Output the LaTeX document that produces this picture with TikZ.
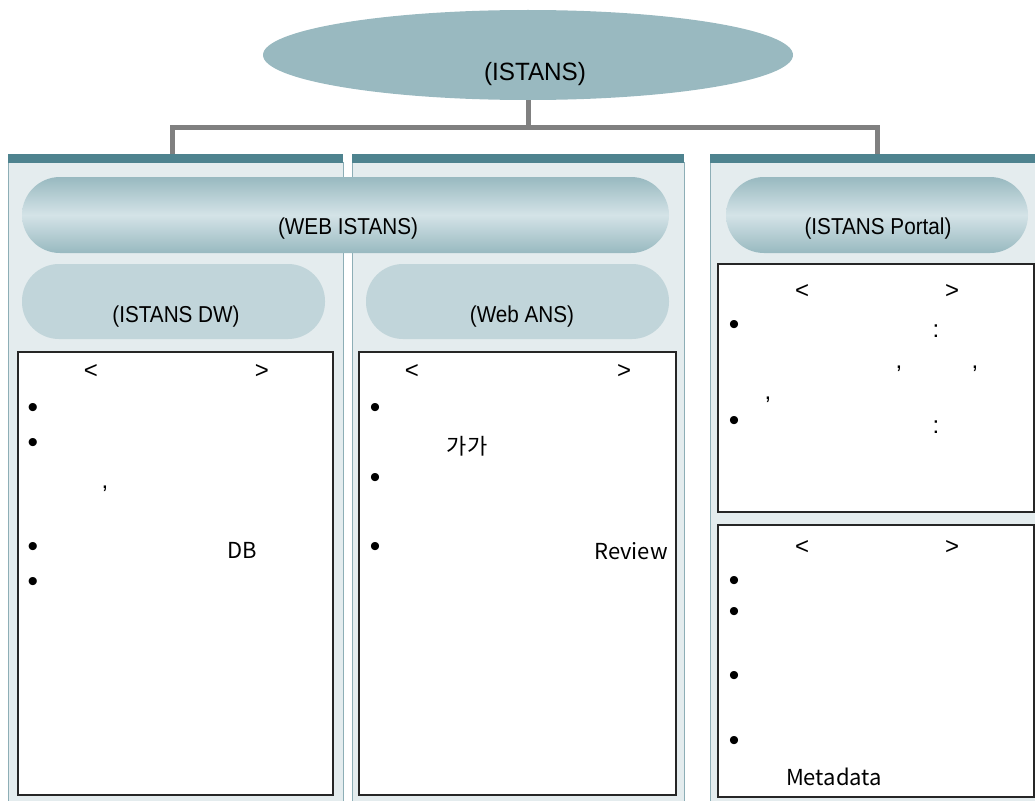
\documentclass[tikz,border=0pt]{standalone}
\usepackage{fontspec}
\setmainfont{Liberation Sans}
\newfontfamily\kr{Noto Sans CJK KR}
\usetikzlibrary{shapes.geometric}
\definecolor{bar}{HTML}{4E838F}
\definecolor{panelfill}{HTML}{E4ECEE}
\definecolor{panelline}{HTML}{8DAEB6}
\definecolor{pillsoft}{HTML}{C1D5DA}
\definecolor{pilldark}{HTML}{98B9C0}
\definecolor{pilllight}{HTML}{D4E3E7}
\definecolor{ellfill}{HTML}{99B9C0}
\definecolor{conn}{HTML}{808080}
\tikzset{
  panelbg/.style={fill=panelfill, draw=panelline, line width=1pt},
  topbar/.style={fill=bar, draw=none},
  bigpill/.style={top color=pilldark, bottom color=pilldark, middle color=pilllight, draw=none, rounded corners=38pt},
  softpill/.style={fill=pillsoft, draw=none, rounded corners=37pt},
  whitebox/.style={fill=white, draw=black!85, line width=1.2pt},
  pilltext/.style={font=\fontsize{23}{26}\selectfont, inner sep=0pt, xscale=0.9},
  boxtext/.style={font=\fontsize{24}{28}\selectfont, inner sep=0pt},
  krtext/.style={font=\kr\fontsize{22}{26}\selectfont, inner sep=0pt},
  bul/.style={font=\fontsize{30}{34}\selectfont, inner sep=0pt},
  connector/.style={draw=conn, line width=5pt}
}
\begin{document}
\begin{tikzpicture}[x=1pt,y=-1pt]
\useasboundingbox (0,0) rectangle (1035,800);
% panels
\draw[panelbg] (8,162) rectangle (343,805);
\fill[topbar] (8,154) rectangle (343,163);
\draw[panelbg] (352,162) rectangle (684,805);
\fill[topbar] (352,154) rectangle (684,163);
\draw[panelbg] (710,162) rectangle (1040,805);
\fill[topbar] (710,154) rectangle (1035,163);
% top ellipse
\node[ellipse, fill=ellfill, draw=none, minimum width=530pt, minimum height=90pt, inner sep=0pt] (top) at (528,55) {};
\node[font=\fontsize{25}{28}\selectfont, inner sep=0pt, xscale=0.97] (toplbl) at (535,74) {(ISTANS)};
% connectors
\coordinate (j) at (528,127);
\coordinate (p1t) at (172,154);
\coordinate (p3t) at (877,154);
\draw[connector] (top.south) -- (j);
\draw[connector] (p1t) |- (j) -| (p3t);
% pills
\shade[bigpill] (22,177) rectangle (669,253);
\node[pilltext] (webistans) at (348,229) {(WEB ISTANS)};
\shade[bigpill] (726,177) rectangle (1028,253);
\node[pilltext] (portal) at (878,229) {(ISTANS Portal)};
\fill[softpill] (22,264) rectangle (325,339);
\node[pilltext] (dw) at (176,317) {(ISTANS DW)};
\fill[softpill] (366,264) rectangle (669,339);
\node[pilltext] (webans) at (522,317) {(Web ANS)};
% white boxes
\draw[whitebox] (18,352) rectangle (333,795);
\draw[whitebox] (359,352) rectangle (676,795);
\draw[whitebox] (718,264) rectangle (1034,512);
\draw[whitebox] (718,525) rectangle (1034,797);
% box 1
\node[boxtext] (b1l) at (91,371) {<};
\node[boxtext] (b1r) at (262,371) {>};
\node[bul] (b1a) at (33,410) {\textbullet};
\node[bul] (b1b) at (33,445) {\textbullet};
\node[boxtext] (b1c) at (105,489) {,};
\node[bul] (b1d) at (33,549) {\textbullet};
\node[krtext] (b1db) at (242,550) {DB};
\node[bul] (b1e) at (33,584) {\textbullet};
% box 2
\node[boxtext] (b2l) at (412,371) {<};
\node[boxtext] (b2r) at (624,371) {>};
\node[bul] (b2a) at (375,410) {\textbullet};
\node[krtext] (b2ga) at (467,446) {가가};
\node[bul] (b2b) at (375,480) {\textbullet};
\node[bul] (b2c) at (375,549) {\textbullet};
\node[krtext] (b2rev) at (631,551) {Review};
% box 3
\node[boxtext] (b3l) at (802,291) {<};
\node[boxtext] (b3r) at (952,291) {>};
\node[bul] (b3a) at (734,327) {\textbullet};
\node[boxtext] (b3c1) at (936,331) {:};
\node[boxtext] (b3k1) at (899,369) {,};
\node[boxtext] (b3k2) at (975,369) {,};
\node[boxtext] (b3k3) at (768,400) {,};
\node[bul] (b3b) at (734,423) {\textbullet};
\node[boxtext] (b3c2) at (936,427) {:};
% box 4
\node[boxtext] (b4l) at (802,547) {<};
\node[boxtext] (b4r) at (952,547) {>};
\node[bul] (b4a) at (734,583) {\textbullet};
\node[bul] (b4b) at (734,614) {\textbullet};
\node[bul] (b4c) at (734,678) {\textbullet};
\node[bul] (b4d) at (734,743) {\textbullet};
\node[krtext] (b4meta) at (834,777) {Metadata};
\end{tikzpicture}
\end{document}
